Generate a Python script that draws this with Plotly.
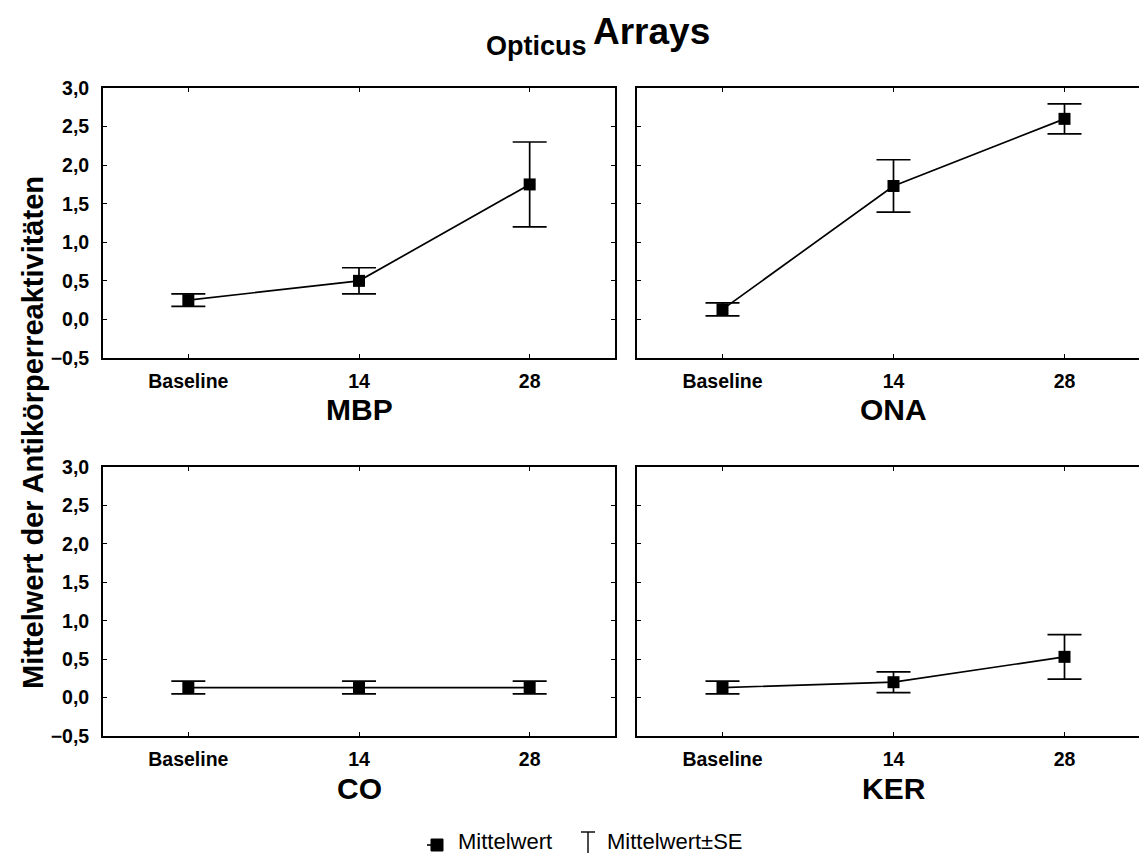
import plotly.graph_objects as go

# Time points and group means with standard errors
categories = ["Baseline", "14", "28"]
x_pos = [0, 1, 2]

mbp_mean = [0.25, 0.50, 1.75]
mbp_se = [0.08, 0.17, 0.55]

ona_mean = [0.13, 1.73, 2.60]
ona_se = [0.085, 0.34, 0.195]

co_mean = [0.13, 0.13, 0.13]
co_se = [0.083, 0.083, 0.083]

ker_mean = [0.13, 0.20, 0.53]
ker_se = [0.083, 0.135, 0.29]

panel_names = ["MBP", "ONA", "CO", "KER"]
y_ticks = [-0.5, 0.0, 0.5, 1.0, 1.5, 2.0, 2.5, 3.0]

W, H = 1139, 856
FONT = "Arial, Liberation Sans, sans-serif"

panels = [
    (mbp_mean, mbp_se, "x", "y"),
    (ona_mean, ona_se, "x2", "y2"),
    (co_mean, co_se, "x3", "y3"),
    (ker_mean, ker_se, "x4", "y4"),
]

fig = go.Figure()
for mean, se, xa, ya in panels:
    fig.add_trace(go.Scatter(
        x=x_pos, y=mean, xaxis=xa, yaxis=ya,
        mode="lines+markers",
        line=dict(color="black", width=1.7),
        marker=dict(symbol="square", size=12, color="black"),
        error_y=dict(type="data", array=se, visible=True,
                     color="black", thickness=1.7, width=17),
        showlegend=False, hoverinfo="skip",
    ))

# panel geometry in pixels
left_dom = [103 / W, 615 / W]
right_dom = [637 / W, 1.0]
top_dom = [1 - 358 / H, 1 - 88 / H]
bot_dom = [1 - 736 / H, 1 - 467 / H]
right_range_end = (W - 637) / 171.0 - 0.5

TICKFONT = dict(family=FONT, size=19.5, color="black", weight="bold")


def xaxis(dom, rng, anchor):
    return dict(domain=dom, anchor=anchor, range=rng, automargin=False,
                tickvals=x_pos, ticktext=categories,
                showline=True, linecolor="black", linewidth=1.8, mirror="ticks",
                ticks="inside", ticklen=4, tickwidth=1, tickcolor="black",
                showgrid=False, zeroline=False, ticklabelstandoff=5,
                tickfont=TICKFONT, fixedrange=True)


def yaxis(dom, anchor, labels, mirror):
    return dict(domain=dom, anchor=anchor, range=[-0.5, 3.0], automargin=False,
                tickvals=y_ticks, tickformat=".1f", showticklabels=labels,
                showline=True, linecolor="black", linewidth=1.8,
                mirror="ticks" if mirror else False,
                ticks="inside", ticklen=4, tickwidth=1, tickcolor="black",
                showgrid=False, zeroline=False, ticklabelstandoff=8,
                tickfont=TICKFONT, fixedrange=True)


fig.update_layout(
    width=W, height=H,
    margin=dict(l=0, r=0, t=0, b=0, autoexpand=False),
    paper_bgcolor="white", plot_bgcolor="white",
    separators=",.",
    xaxis=xaxis(left_dom, [-0.5, 2.5], "y"),
    xaxis2=xaxis(right_dom, [-0.5, right_range_end], "y2"),
    xaxis3=xaxis(left_dom, [-0.5, 2.5], "y3"),
    xaxis4=xaxis(right_dom, [-0.5, right_range_end], "y4"),
    yaxis=yaxis(top_dom, "x", True, True),
    yaxis2=yaxis(top_dom, "x2", False, False),
    yaxis3=yaxis(bot_dom, "x3", True, True),
    yaxis4=yaxis(bot_dom, "x4", False, False),
)

annotations = []
# panel titles below each x axis, centred on the middle category
title_y = [1 - 409 / H, 1 - 409 / H, 1 - 788 / H, 1 - 788 / H]
for name, xa, ty in zip(panel_names, ["x", "x2", "x3", "x4"], title_y):
    annotations.append(dict(text=name, xref=xa, yref="paper", x=1, y=ty,
                            xanchor="center", yanchor="middle", showarrow=False,
                            font=dict(family=FONT, size=30, color="black", weight="bold")))

# main title
annotations.append(dict(text="Opticus", xref="paper", yref="paper",
                        x=589 / W, y=1 - 46 / H, xanchor="right", yanchor="middle",
                        showarrow=False,
                        font=dict(family=FONT, size=27, color="black", weight="bold")))
annotations.append(dict(text="Arrays", xref="paper", yref="paper",
                        x=591 / W, y=1 - 31 / H, xanchor="left", yanchor="middle",
                        showarrow=False,
                        font=dict(family=FONT, size=37, color="black", weight="bold")))

# shared y axis title
annotations.append(dict(text="Mittelwert der Antikörperreaktivitäten",
                        xref="paper", yref="paper", x=33 / W, y=1 - 433 / H,
                        xanchor="center", yanchor="middle", textangle=-90,
                        showarrow=False,
                        font=dict(family=FONT, size=29, color="black", weight="bold")))

# legend texts, sitting on the bottom edge
annotations.append(dict(text="Mittelwert", xref="paper", yref="paper",
                        x=456 / W, y=0, xanchor="left", yanchor="bottom",
                        showarrow=False, font=dict(family=FONT, size=22, color="black")))
annotations.append(dict(text="Mittelwert±SE", xref="paper", yref="paper",
                        x=605 / W, y=0, xanchor="left", yanchor="bottom",
                        showarrow=False, font=dict(family=FONT, size=22, color="black")))

fig.update_layout(annotations=annotations)


# legend symbols: square marker and error-bar cap
def px(x):
    return x / W


def py(y):
    return 1 - y / H


shapes = [
    dict(type="rect", xref="paper", yref="paper",
         x0=px(431), x1=px(443), y0=py(851), y1=py(839),
         fillcolor="black", line=dict(color="black", width=1)),
    dict(type="line", xref="paper", yref="paper",
         x0=px(427), x1=px(431), y0=py(845), y1=py(845),
         line=dict(color="black", width=1.6)),
    dict(type="line", xref="paper", yref="paper",
         x0=px(581), x1=px(595), y0=py(832), y1=py(832),
         line=dict(color="black", width=1.4)),
    dict(type="line", xref="paper", yref="paper",
         x0=px(588), x1=px(588), y0=py(832), y1=py(853),
         line=dict(color="black", width=1.4)),
]
fig.update_layout(shapes=shapes)

fig.write_html("out.html")
